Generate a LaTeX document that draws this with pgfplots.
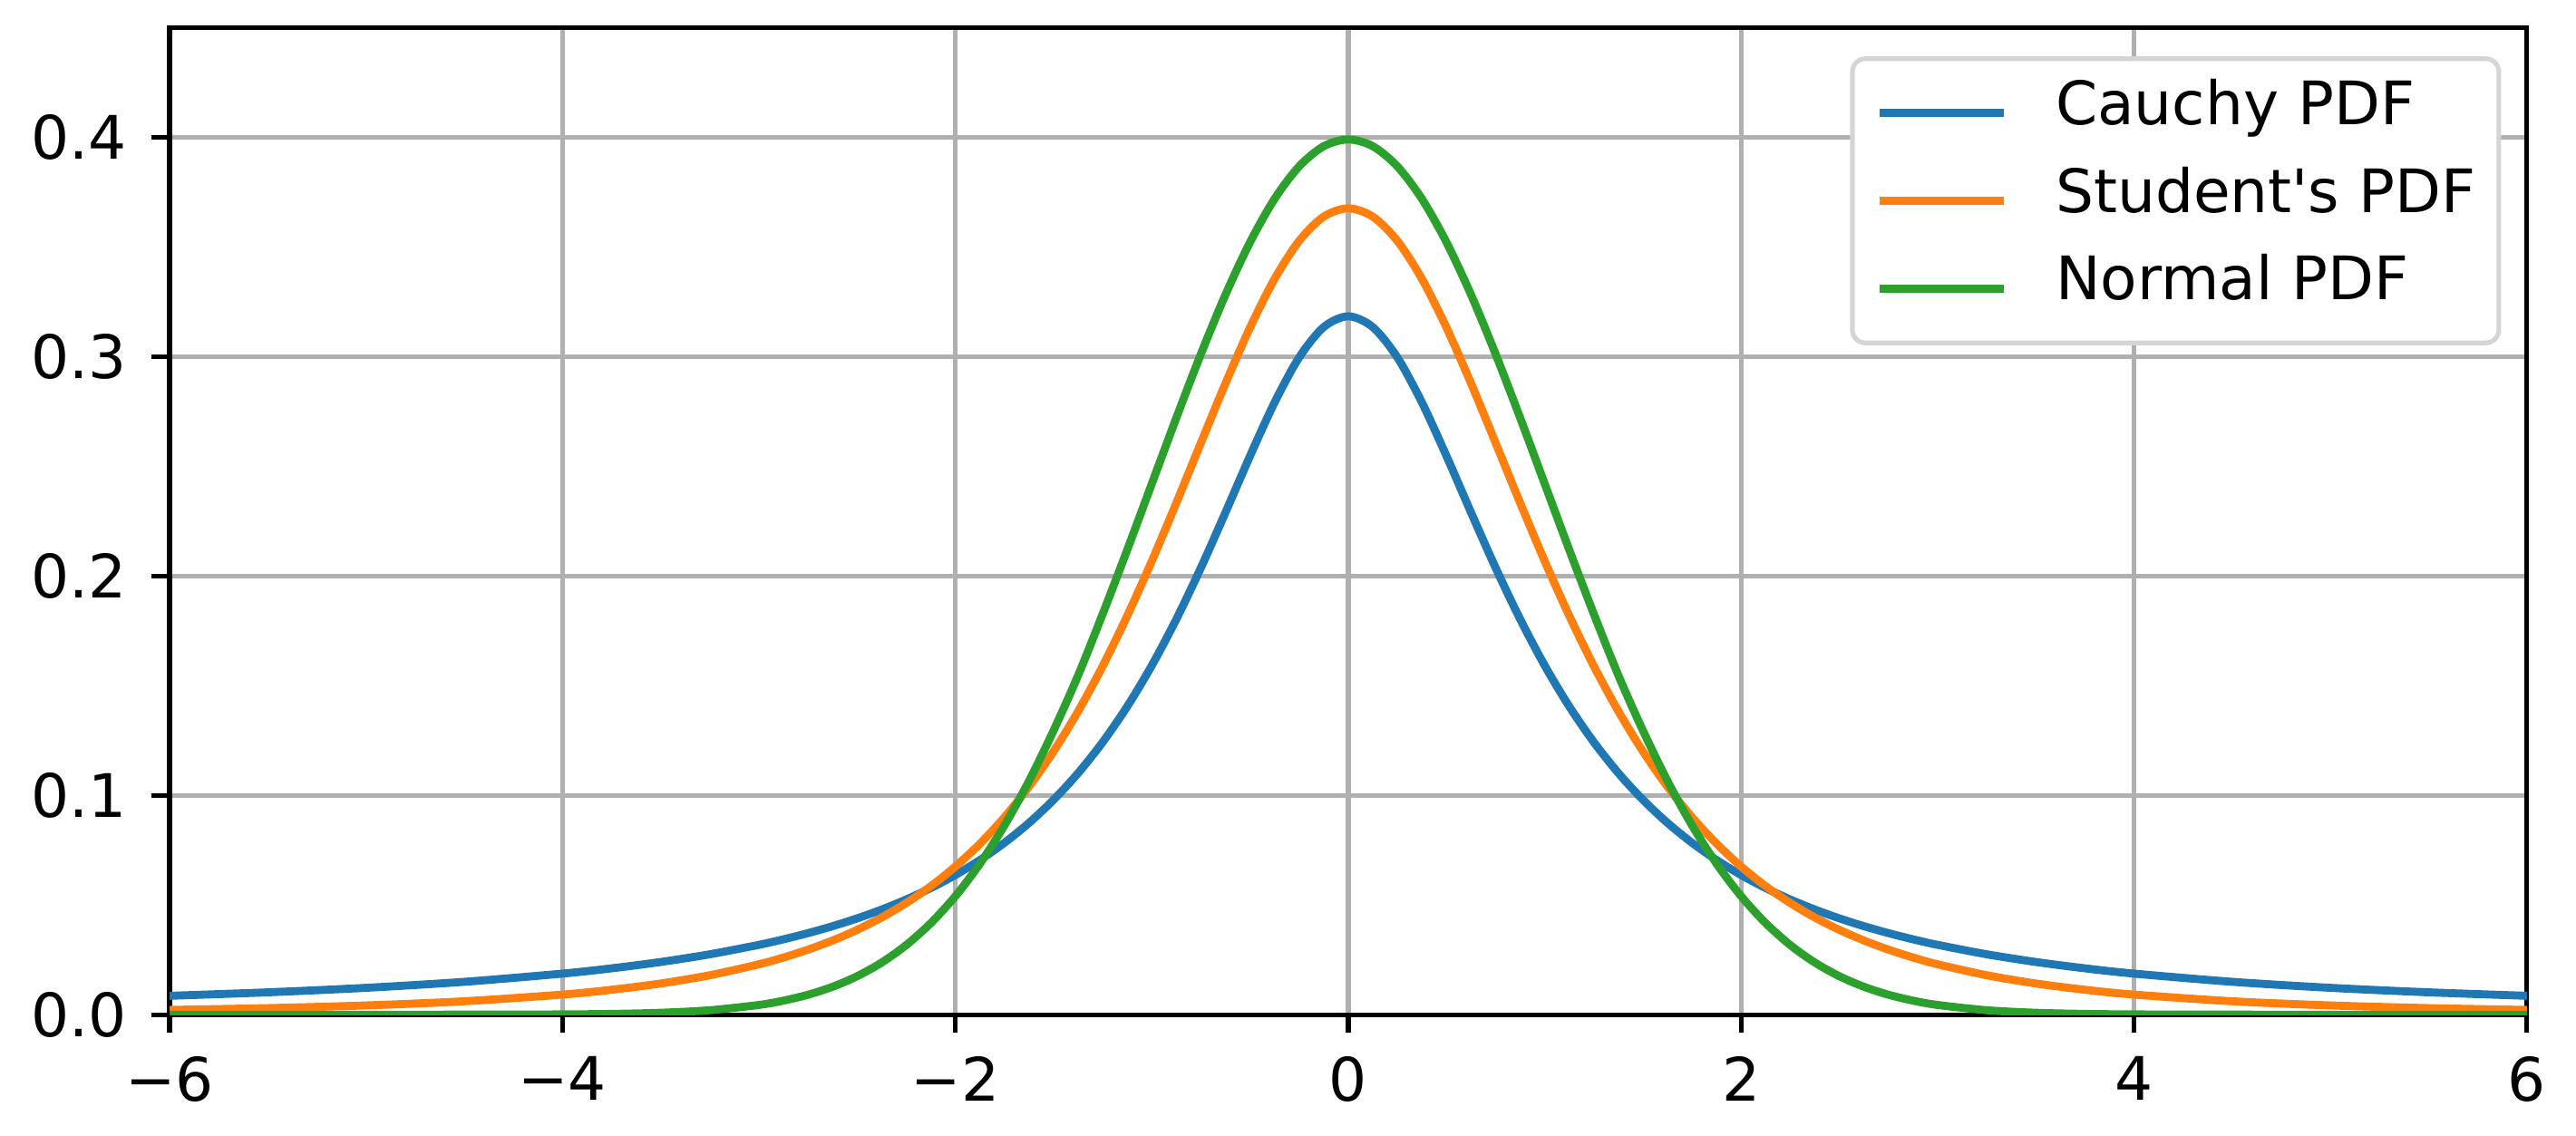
\documentclass[border=0pt]{standalone}
\usepackage{fontspec}
\setmainfont{DejaVu Sans}
\usepackage{pgfplots}
\usepackage{pgfplotstable}
\pgfplotsset{compat=1.18}

\definecolor{mplblue}{HTML}{1F77B4}
\definecolor{mplorange}{HTML}{FF7F0E}
\definecolor{mplgreen}{HTML}{2CA02C}
\definecolor{gridgray}{HTML}{B0B0B0}
\definecolor{legframe}{HTML}{D5D5D5}

% x, Cauchy, Student t (3 dof), Normal
\pgfplotstableread{
x cauchy student normal
-6 0.00860 0.00217 0.00000
-5.5 0.01019 0.00299 0.00000
-5 0.01224 0.00422 0.0000015
-4.5 0.01498 0.00612 0.000016
-4 0.01872 0.00916 0.00013
-3.75 0.02113 0.01136 0.00035
-3.5 0.02402 0.01422 0.00087
-3.25 0.02753 0.01798 0.00203
-3 0.03183 0.02297 0.00443
-2.875 0.03435 0.02606 0.00640
-2.75 0.03717 0.02965 0.00909
-2.625 0.04034 0.03382 0.01272
-2.5 0.04390 0.03866 0.01753
-2.375 0.04793 0.04431 0.02377
-2.25 0.05251 0.05089 0.03174
-2.125 0.05771 0.05856 0.04172
-2 0.06366 0.06751 0.05399
-1.875 0.07049 0.07792 0.06879
-1.75 0.07835 0.09000 0.08628
-1.625 0.08743 0.10397 0.10654
-1.5 0.09794 0.12002 0.12952
-1.375 0.11012 0.13830 0.15467
-1.25 0.12422 0.15891 0.18265
-1.125 0.14049 0.18180 0.21188
-1 0.15915 0.20675 0.24197
-0.875 0.18028 0.23329 0.27206
-0.75 0.20372 0.26065 0.30114
-0.625 0.22890 0.28774 0.32816
-0.5 0.25465 0.31318 0.35207
-0.375 0.27906 0.33538 0.37185
-0.25 0.29958 0.35271 0.38667
-0.125 0.31341 0.36375 0.39584
0 0.31831 0.36755 0.39894
0.125 0.31341 0.36375 0.39584
0.25 0.29958 0.35271 0.38667
0.375 0.27906 0.33538 0.37185
0.5 0.25465 0.31318 0.35207
0.625 0.22890 0.28774 0.32816
0.75 0.20372 0.26065 0.30114
0.875 0.18028 0.23329 0.27206
1 0.15915 0.20675 0.24197
1.125 0.14049 0.18180 0.21188
1.25 0.12422 0.15891 0.18265
1.375 0.11012 0.13830 0.15467
1.5 0.09794 0.12002 0.12952
1.625 0.08743 0.10397 0.10654
1.75 0.07835 0.09000 0.08628
1.875 0.07049 0.07792 0.06879
2 0.06366 0.06751 0.05399
2.125 0.05771 0.05856 0.04172
2.25 0.05251 0.05089 0.03174
2.375 0.04793 0.04431 0.02377
2.5 0.04390 0.03866 0.01753
2.625 0.04034 0.03382 0.01272
2.75 0.03717 0.02965 0.00909
2.875 0.03435 0.02606 0.00640
3 0.03183 0.02297 0.00443
3.25 0.02753 0.01798 0.00203
3.5 0.02402 0.01422 0.00087
3.75 0.02113 0.01136 0.00035
4 0.01872 0.00916 0.00013
4.5 0.01498 0.00612 0.000016
5 0.01224 0.00422 0.0000015
5.5 0.01019 0.00299 0.00000
6 0.00860 0.00217 0.00000
}\pdfdata

\begin{document}
\begin{tikzpicture}
\begin{axis}[
    name=ax,
    scale only axis,
    width=456pt,
    height=191pt,
    xmin=-6, xmax=6,
    ymin=0, ymax=0.45,
    xtick={-6,-4,-2,0,2,4,6},
    xticklabels={−6,−4,−2,0,2,4,6},
    ytick={0,0.1,0.2,0.3,0.4},
    yticklabels={0.0,0.1,0.2,0.3,0.4},
    xtick pos=bottom, ytick pos=left,
    tick align=outside,
    major tick length=3.5pt,
    tick style={black, line width=0.9pt},
    axis line style={line width=0.9pt},
    grid=major,
    major grid style={gridgray, line width=0.9pt},
    tick label style={font=\fontsize{11.6}{13.5}\selectfont},
    xticklabel style={yshift=-1pt},
    yticklabel style={xshift=-1.3pt},
    legend cell align=left,
    legend style={
        at={(1,1)}, anchor=north east,
        xshift=-5pt, yshift=-5.6pt,
        draw=legframe, line width=0.9pt, rounded corners=2.5pt,
        font=\fontsize{11.6}{13.5}\selectfont,
        inner xsep=4.5pt, inner ysep=4.3pt,
        nodes={inner sep=0pt, text height=8.46pt, text depth=4pt},
        row sep=4.5pt,
        /tikz/every odd column/.append style={column sep=9.3pt},
    },
    legend image code/.code={\draw[#1] (0pt,0pt) -- (24pt,0pt);},
    every axis plot/.append style={line width=1.55pt, smooth},
]
\addplot[mplblue] table[x=x, y=cauchy] {\pdfdata};
\addlegendentry{Cauchy PDF}
\addplot[mplorange] table[x=x, y=student] {\pdfdata};
\addlegendentry{Student\textquotesingle s PDF}
\addplot[mplgreen] table[x=x, y=normal] {\pdfdata};
\addlegendentry{Normal PDF}
\end{axis}
\pgfresetboundingbox
\path[use as bounding box] ([xshift=-32.8pt,yshift=-23.3pt]ax.south west)
    rectangle ([xshift=9.5pt,yshift=5.3pt]ax.north east);
\end{tikzpicture}
\end{document}
